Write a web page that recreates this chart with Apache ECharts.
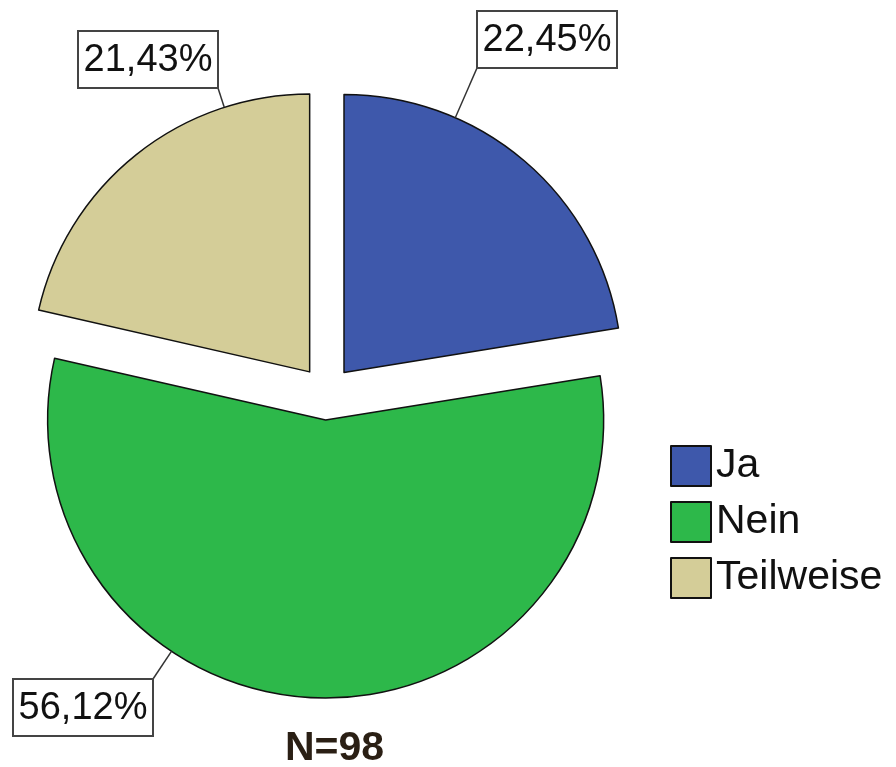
<!DOCTYPE html>
<html>
<head>
    <meta charset="utf-8" />
    <title>Pie</title>
    <style>
        html, body { margin: 0; padding: 0; background: #fff; }
        #chart { width: 896px; height: 767px; }
    </style>
</head>
<body>
    <div id="chart"></div>
    <script src="https://cdn.jsdelivr.net/npm/echarts@6/dist/echarts.min.js"></script>
    <script type="text/javascript">

        var categories = ['Ja', 'Nein', 'Teilweise'];
        var percents = [22.45, 56.12, 21.43];
        var colors = ['#3e58ab', '#2db84a', '#d4cd98'];
        // label boxes: left, top, and which corner the leader line leaves from
        var labelBox = [[477, 11, 'bl'], [13, 679, 'tr'], [78, 31, 'br']];
        var boxW = 140, boxH = 57;

        var center = [326.5, 393], radius = 278, explode = 27;
        var font = 'Liberation Sans, Arial, sans-serif';

        var chart = echarts.init(document.getElementById('chart'));

        // leader lines go from the box corner to the nearest point of the exploded slice rim
        var total = percents.reduce(function (a, b) { return a + b; }, 0);
        var graphics = [];
        var acc = 0;
        percents.forEach(function (v, i) {
            var a0 = acc / total * 2 * Math.PI;
            acc += v;
            var a1 = acc / total * 2 * Math.PI;
            var mid = (a0 + a1) / 2;
            var cx = center[0] + explode * Math.sin(mid);
            var cy = center[1] - explode * Math.cos(mid);
            var b = labelBox[i];
            var px = b[2].charAt(1) === 'l' ? b[0] : b[0] + boxW;
            var py = b[2].charAt(0) === 't' ? b[1] : b[1] + boxH;
            var ang = Math.atan2(px - cx, cy - py);
            if (ang < 0) ang += 2 * Math.PI;
            ang = Math.min(Math.max(ang, a0), a1);
            var ex = cx + radius * Math.sin(ang);
            var ey = cy - radius * Math.cos(ang);
            graphics.push({
                type: 'line',
                z: 10,
                shape: { x1: ex, y1: ey, x2: px, y2: py },
                style: { stroke: '#333', lineWidth: 1.5 }
            });
            graphics.push({
                type: 'rect',
                z: 11,
                shape: { x: b[0], y: b[1], width: boxW, height: boxH },
                style: { fill: '#fff', stroke: '#444', lineWidth: 2 }
            });
            graphics.push({
                type: 'text',
                z: 12,
                x: b[0] + boxW / 2,
                y: b[1] + boxH / 2 + 1,
                style: {
                    text: v.toFixed(2).replace('.', ',') + '%',
                    fontSize: 38,
                    fontFamily: font,
                    fill: '#111',
                    align: 'center',
                    verticalAlign: 'middle'
                }
            });
        });
        graphics.push({
            type: 'text',
            left: 285,
            top: 728,
            style: {
                text: 'N=98',
                fontSize: 41,
                fontWeight: 'bold',
                fontFamily: font,
                fill: '#2a1f14'
            }
        });

        var option = {
            animation: false,
            textStyle: { fontFamily: font },
            legend: {
                orient: 'vertical',
                left: 670,
                top: 445,
                padding: 0,
                itemWidth: 40,
                itemHeight: 40,
                itemGap: 14,
                icon: 'rect',
                selectedMode: false,
                textStyle: { fontSize: 41, color: '#111' },
                data: categories
            },
            graphic: graphics,
            series: [{
                type: 'pie',
                center: center,
                radius: [0, radius],
                startAngle: 90,
                clockwise: true,
                selectedMode: 'multiple',
                selectedOffset: explode,
                emphasis: { disabled: true },
                itemStyle: { borderColor: '#111', borderWidth: 1.5 },
                label: { show: false },
                labelLine: { show: false },
                data: categories.map(function (c, i) {
                    return {
                        name: c,
                        value: percents[i],
                        selected: true,
                        itemStyle: { color: colors[i] }
                    };
                })
            }]
        };

        chart.setOption(option);
    </script>
</body>
</html>
